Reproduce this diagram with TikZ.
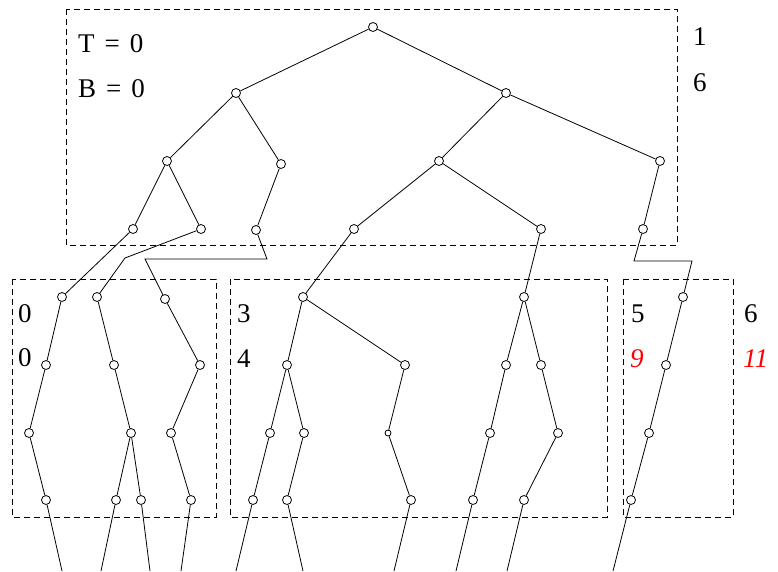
\documentclass[tikz,border=0pt]{standalone}
\usepackage{fontspec}
\setmainfont{Liberation Serif}
\usetikzlibrary{positioning}

\tikzset{
  vtx/.style={circle,draw,fill=white,inner sep=0pt,minimum size=9pt,line width=0.8pt},
  smallvtx/.style={vtx,minimum size=6pt},
  bx/.style={draw,line width=0.8pt,dash pattern=on 6pt off 4pt},
  lbl/.style={anchor=base west,inner sep=0pt,font=\fontsize{27}{30}\selectfont},
  redlbl/.style={lbl,text=red,font=\fontsize{27}{30}\selectfont\itshape},
  ed/.style={line width=0.8pt}
}

\begin{document}
\begin{tikzpicture}[x=1pt,y=-1pt]
\useasboundingbox (0,0) rectangle (778,571);

\draw[bx] (66,9) rectangle (677,245);
\draw[bx] (12,279) rectangle (216,517);
\draw[bx] (230,279) rectangle (607,517);
\draw[bx] (623,279) rectangle (733,517);

\node[lbl] (tl) at (78,52) {T\hspace{10pt}=\hspace{10pt}0};
\node[lbl] (bl) at (78,97) {B\hspace{10pt}=\hspace{10pt}0};
\node[lbl] (n1) at (693,45) {1};
\node[lbl] (n2) at (693,91) {6};
\node[lbl] (n3) at (18,322) {0};
\node[lbl] (n4) at (18,366) {0};
\node[lbl] (n5) at (237,322) {3};
\node[lbl] (n6) at (237,367) {4};
\node[lbl] (n7) at (631,322) {5};
\node[redlbl] (n8) at (630,367) {9};
\node[lbl] (n9) at (744,322) {6};
\node[redlbl] (n10) at (743,367) {11};

\node[vtx] (r) at (373,27) {};
\node[vtx] (a1) at (236,93) {};
\node[vtx] (a2) at (506,93) {};
\node[vtx] (b1) at (167,161) {};
\node[vtx] (b2) at (281,164) {};
\node[vtx] (b3) at (439,161) {};
\node[vtx] (b4) at (660,161) {};
\node[vtx] (c1) at (133,229) {};
\node[vtx] (c2) at (201,229) {};
\node[vtx] (c3) at (256,230) {};
\node[vtx] (c4) at (354,229) {};
\node[vtx] (c5) at (541,229) {};
\node[vtx] (c6) at (643,229) {};

\node[vtx] (p1) at (62,297) {};
\node[vtx] (p2) at (97,297) {};
\node[vtx] (p3) at (165,299) {};
\node[vtx] (q1) at (46,365) {};
\node[vtx] (q2) at (114,365) {};
\node[vtx] (q3) at (200,365) {};
\node[vtx] (s1) at (29,433) {};
\node[vtx] (s2) at (131,433) {};
\node[vtx] (s3) at (171,433) {};
\node[vtx] (u1) at (46,500) {};
\node[vtx] (u2) at (116,500) {};
\node[vtx] (u3) at (141,500) {};
\node[vtx] (u4) at (191,500) {};

\node[vtx] (p4) at (303,297) {};
\node[vtx] (p5) at (524,297) {};
\node[vtx] (q4) at (287,365) {};
\node[vtx] (q5) at (405,365) {};
\node[vtx] (q6) at (506,365) {};
\node[vtx] (q7) at (541,365) {};
\node[vtx] (s4) at (270,433) {};
\node[vtx] (s5) at (304,433) {};
\node[smallvtx] (s6) at (388,433) {};
\node[vtx] (s7) at (490,433) {};
\node[vtx] (s8) at (558,433) {};
\node[vtx] (u5) at (253,500) {};
\node[vtx] (u6) at (287,500) {};
\node[vtx] (u7) at (411,500) {};
\node[vtx] (u8) at (473,500) {};
\node[vtx] (u9) at (524,500) {};

\node[vtx] (p6) at (683,297) {};
\node[vtx] (q8) at (666,365) {};
\node[vtx] (s9) at (649,433) {};
\node[vtx] (u10) at (631,500) {};

\coordinate (k1) at (125,258);
\coordinate (k2) at (267,259);
\coordinate (k3) at (145,259);
\coordinate (k4) at (634,261);
\coordinate (k5) at (692,261);

\coordinate (e1) at (62,571);
\coordinate (e2) at (101,571);
\coordinate (e3) at (150,571);
\coordinate (e4) at (181,571);
\coordinate (e5) at (236,571);
\coordinate (e6) at (303,571);
\coordinate (e7) at (394,571);
\coordinate (e8) at (456,571);
\coordinate (e9) at (507,571);
\coordinate (e10) at (613,571);

\draw[ed] (r) -- (a1);
\draw[ed] (r) -- (a2);
\draw[ed] (a1) -- (b1);
\draw[ed] (a1) -- (b2);
\draw[ed] (a2) -- (b3);
\draw[ed] (a2) -- (b4);
\draw[ed] (b1) -- (c1);
\draw[ed] (b1) -- (c2);
\draw[ed] (b2) -- (c3);
\draw[ed] (b3) -- (c4);
\draw[ed] (b3) -- (c5);
\draw[ed] (b4) -- (c6);

\draw[ed] (c1) -- (p1);
\draw[ed] (c2) -- (k1) -- (p2);
\draw[ed] (c3) -- (k2) -- (k3) -- (p3);
\draw[ed] (c4) -- (p4);
\draw[ed] (c5) -- (p5);
\draw[ed] (c6) -- (k4) -- (k5) -- (p6);

\draw[ed] (p1) -- (q1);
\draw[ed] (q1) -- (s1);
\draw[ed] (s1) -- (u1);
\draw[ed] (u1) -- (e1);
\draw[ed] (p2) -- (q2);
\draw[ed] (q2) -- (s2);
\draw[ed] (s2) -- (u2);
\draw[ed] (u2) -- (e2);
\draw[ed] (s2) -- (u3);
\draw[ed] (u3) -- (e3);
\draw[ed] (p3) -- (q3);
\draw[ed] (q3) -- (s3);
\draw[ed] (s3) -- (u4);
\draw[ed] (u4) -- (e4);

\draw[ed] (p4) -- (q4);
\draw[ed] (p4) -- (q5);
\draw[ed] (q4) -- (s4);
\draw[ed] (q4) -- (s5);
\draw[ed] (s4) -- (u5);
\draw[ed] (u5) -- (e5);
\draw[ed] (s5) -- (u6);
\draw[ed] (u6) -- (e6);
\draw[ed] (q5) -- (s6);
\draw[ed] (s6) -- (u7);
\draw[ed] (u7) -- (e7);
\draw[ed] (p5) -- (q6);
\draw[ed] (q6) -- (s7);
\draw[ed] (s7) -- (u8);
\draw[ed] (u8) -- (e8);
\draw[ed] (p5) -- (q7);
\draw[ed] (q7) -- (s8);
\draw[ed] (s8) -- (u9);
\draw[ed] (u9) -- (e9);

\draw[ed] (p6) -- (q8);
\draw[ed] (q8) -- (s9);
\draw[ed] (s9) -- (u10);
\draw[ed] (u10) -- (e10);
\end{tikzpicture}
\end{document}
